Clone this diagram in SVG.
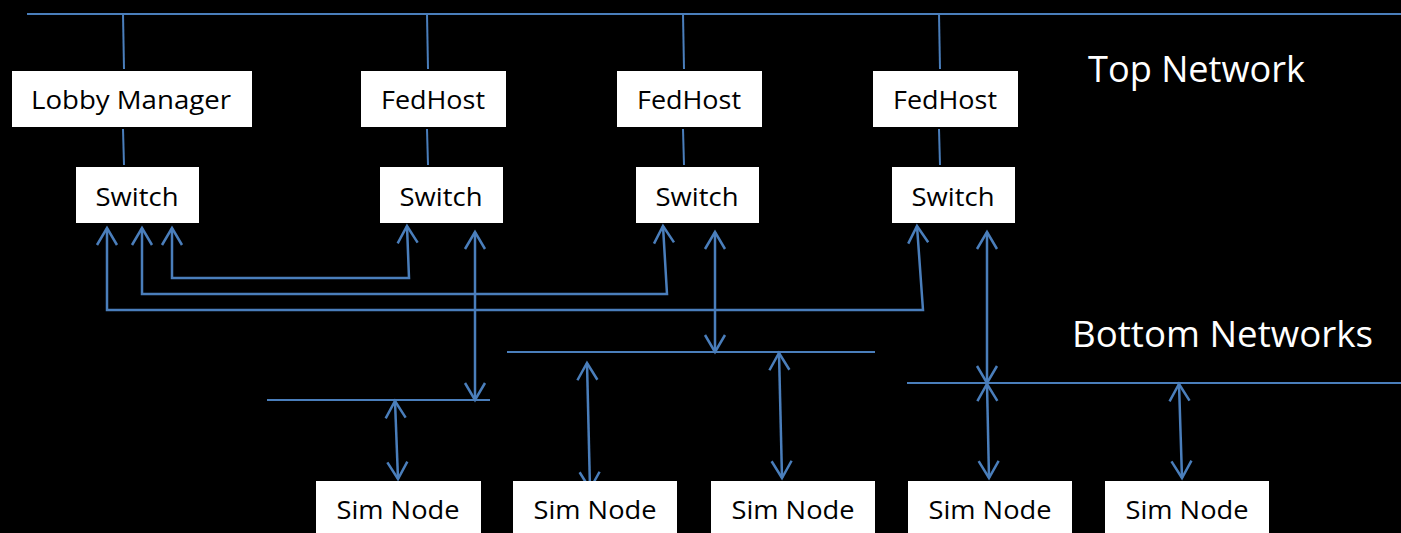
<svg xmlns="http://www.w3.org/2000/svg" width="1401" height="533" viewBox="0 0 1401 533">
  <style>
    .box { fill: #ffffff; }
    .lbl { font-family: "Open Sans", "Noto Sans", sans-serif; font-size: 26px; fill: #000000; text-anchor: middle; }
    .title { font-family: "Open Sans", "Noto Sans", sans-serif; font-size: 36px; fill: #ffffff; }
    .wire { stroke: #4a7ebb; stroke-width: 2; fill: none; }
    .link { stroke: #4a7ebb; stroke-width: 2.5; fill: none; marker-start: url(#head); marker-end: url(#head); }
  </style>
  <defs>
    <marker id="head" markerUnits="userSpaceOnUse" markerWidth="40" markerHeight="40" refX="0" refY="0" orient="auto-start-reverse" overflow="visible">
      <path d="M-17,-10 L0,0 L-17,10" fill="none" stroke="#4a7ebb" stroke-width="2.5"/>
    </marker>
  </defs>
  <rect width="1401" height="533" fill="#000000"/>

  <!-- network buses and plain wiring -->
  <g id="connectors">
    <path class="wire" d="M27,14 L1401,14"/>
    <path class="wire" d="M123,14 L124,69"/>
    <path class="wire" d="M427,14 L428,69"/>
    <path class="wire" d="M683,14 L684,69"/>
    <path class="wire" d="M939,14 L940,69"/>
    <path class="wire" d="M123,129 L124,165"/>
    <path class="wire" d="M427,129 L428,165"/>
    <path class="wire" d="M683,129 L684,165"/>
    <path class="wire" d="M939,129 L940,165"/>
    <path class="wire" d="M267,400 L490,400"/>
    <path class="wire" d="M507,352 L875,352"/>
    <path class="wire" d="M907,383 L1401,383"/>

    <!-- switch interconnects -->
    <path class="link" d="M107,228 L107,310 L923,310 L917,226"/>
    <path class="link" d="M142,228 L142,294 L667,294 L663,226"/>
    <path class="link" d="M172,228 L172,278 L409,278 L407,226"/>
    <path class="link" d="M475,232 L475,400"/>
    <path class="link" d="M715,232 L715,352"/>
    <path class="link" d="M987,232 L987,383"/>
    <path class="link" d="M395,401 L398,479"/>
    <path class="link" d="M587,363 L590,489"/>
    <path class="link" d="M779,353 L782,478"/>
    <path class="link" d="M987,384 L989,478"/>
    <path class="link" d="M1179,384 L1182,478"/>
  </g>

  <g id="lobby-manager">
    <rect class="box" x="12" y="71" width="240" height="56"/>
    <text class="lbl" x="131" y="109" textLength="200" lengthAdjust="spacingAndGlyphs">Lobby Manager</text>
  </g>
  <g id="fedhost-1">
    <rect class="box" x="361" y="71" width="145" height="56"/>
    <text class="lbl" x="433" y="109" textLength="104" lengthAdjust="spacingAndGlyphs">FedHost</text>
  </g>
  <g id="fedhost-2">
    <rect class="box" x="617" y="71" width="145" height="56"/>
    <text class="lbl" x="689" y="109" textLength="104" lengthAdjust="spacingAndGlyphs">FedHost</text>
  </g>
  <g id="fedhost-3">
    <rect class="box" x="873" y="71" width="145" height="56"/>
    <text class="lbl" x="945" y="109" textLength="104" lengthAdjust="spacingAndGlyphs">FedHost</text>
  </g>

  <g id="switch-1">
    <rect class="box" x="76" y="167" width="123" height="56"/>
    <text class="lbl" x="137" y="206" textLength="83" lengthAdjust="spacingAndGlyphs">Switch</text>
  </g>
  <g id="switch-2">
    <rect class="box" x="380" y="167" width="123" height="56"/>
    <text class="lbl" x="441" y="206" textLength="83" lengthAdjust="spacingAndGlyphs">Switch</text>
  </g>
  <g id="switch-3">
    <rect class="box" x="636" y="167" width="123" height="56"/>
    <text class="lbl" x="697" y="206" textLength="83" lengthAdjust="spacingAndGlyphs">Switch</text>
  </g>
  <g id="switch-4">
    <rect class="box" x="892" y="167" width="123" height="56"/>
    <text class="lbl" x="953" y="206" textLength="83" lengthAdjust="spacingAndGlyphs">Switch</text>
  </g>

  <g id="sim-node-1">
    <rect class="box" x="316" y="481" width="165" height="60"/>
    <text class="lbl" x="398" y="519" textLength="123" lengthAdjust="spacingAndGlyphs">Sim Node</text>
  </g>
  <g id="sim-node-2">
    <rect class="box" x="513" y="481" width="164" height="60"/>
    <text class="lbl" x="595" y="519" textLength="123" lengthAdjust="spacingAndGlyphs">Sim Node</text>
  </g>
  <g id="sim-node-3">
    <rect class="box" x="711" y="481" width="164" height="60"/>
    <text class="lbl" x="793" y="519" textLength="123" lengthAdjust="spacingAndGlyphs">Sim Node</text>
  </g>
  <g id="sim-node-4">
    <rect class="box" x="908" y="481" width="164" height="60"/>
    <text class="lbl" x="990" y="519" textLength="123" lengthAdjust="spacingAndGlyphs">Sim Node</text>
  </g>
  <g id="sim-node-5">
    <rect class="box" x="1105" y="481" width="164" height="60"/>
    <text class="lbl" x="1187" y="519" textLength="123" lengthAdjust="spacingAndGlyphs">Sim Node</text>
  </g>

  <g id="captions">
    <text class="title" x="1088" y="82" textLength="217" lengthAdjust="spacingAndGlyphs">Top Network</text>
    <text class="title" x="1072" y="347" textLength="301" lengthAdjust="spacingAndGlyphs">Bottom Networks</text>
  </g>
</svg>
